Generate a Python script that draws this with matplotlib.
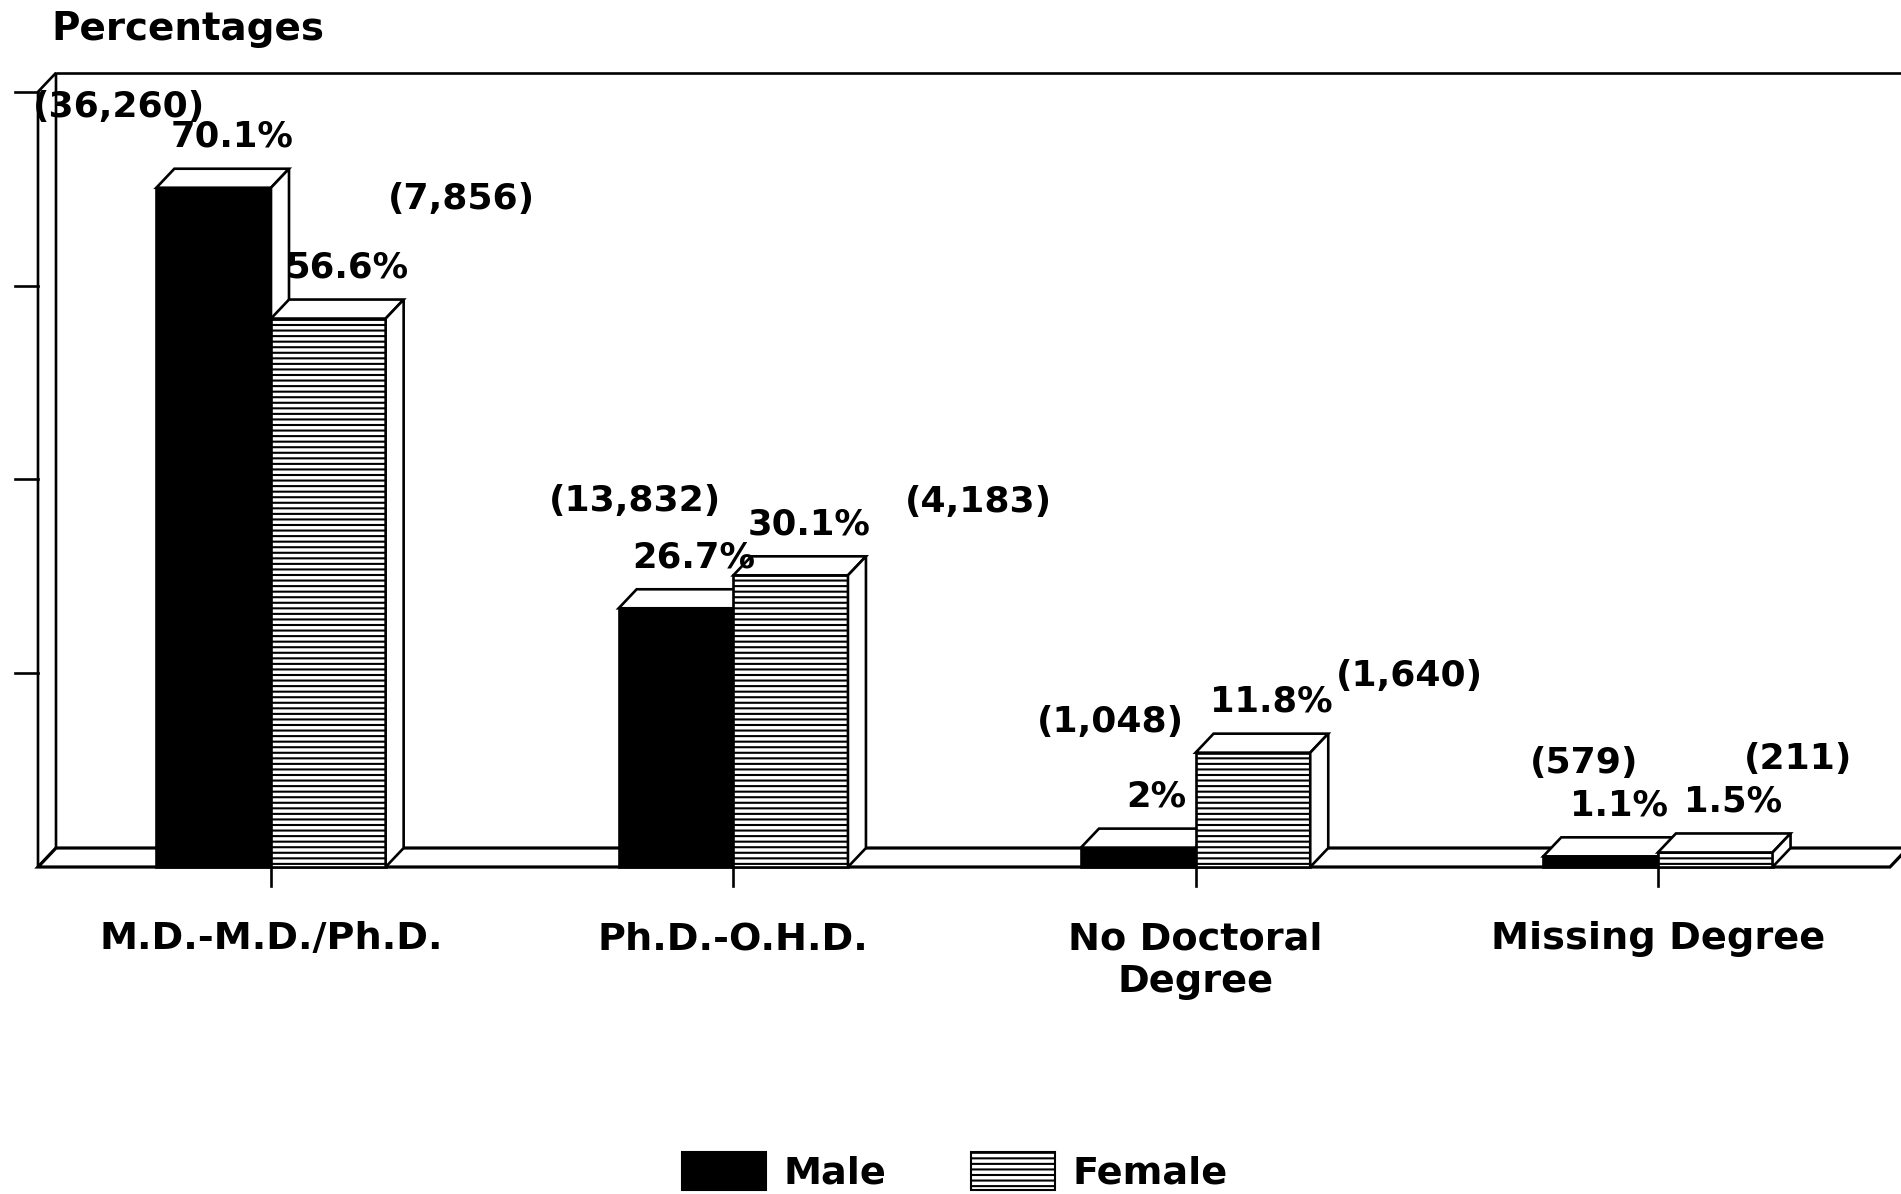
import matplotlib
matplotlib.use("Agg")
import matplotlib.pyplot as plt
from matplotlib.patches import Polygon, Rectangle
import numpy as np

# ---------------- data ----------------
categories = ["M.D.-M.D./Ph.D.", "Ph.D.-O.H.D.", "No Doctoral\nDegree", "Missing Degree"]
male_pct = [70.1, 26.7, 2.0, 1.1]
female_pct = [56.6, 30.1, 11.8, 1.5]
male_pct_labels = ["70.1%", "26.7%", "2%", "1.1%"]
female_pct_labels = ["56.6%", "30.1%", "11.8%", "1.5%"]
male_counts = ["(36,260)", "(13,832)", "(1,048)", "(579)"]
female_counts = ["(7,856)", "(4,183)", "(1,640)", "(211)"]
y_ticks = [20, 40, 60, 80]
series_names = ["Male", "Female"]

# ---------------- style ----------------
plt.rcParams['hatch.linewidth'] = 1.5
plt.rcParams['hatch.color'] = 'black'
W, H = 1901, 1194
FLOOR_PX, PX_PER_PCT = 867, 9.69
CAT0_PX, CAT_STEP_PX = 271, 462.3
BAR_W = 0.248
LW = 1.9
male_count_off = [(-68.4, 51.1), (-29.5, 69.8), (-19.8, 83.5), (-11.5, 59.8)]
female_count_off = [(96.1, 79.2), (135.4, 45.4), (113.0, 48.2), (59.4, 59.8)]
pct_off = (13, 29.5)

fig = plt.figure(figsize=(W / 100, H / 100), dpi=100)
fig.patch.set_facecolor('white')
ax = fig.add_axes([0, 0, 1, 1])
ax.set_xlim(-CAT0_PX / CAT_STEP_PX, (W - CAT0_PX) / CAT_STEP_PX)
ax.set_ylim(-(H - FLOOR_PX) / PX_PER_PCT, FLOOR_PX / PX_PER_PCT)
ax.axis('off')

inv = ax.transData.inverted()
o = ax.transData.transform((0, 0))
DX, DY = inv.transform(o + np.array([18, 19]))
def px_x(px):
    return inv.transform((px, 0))[0]
wall_x = px_x(38)
floor_r = px_x(1890)
tick_x0 = px_x(15)
ymax = y_ticks[-1]

# left wall
ax.add_patch(Polygon([(wall_x, 0), (wall_x, ymax), (wall_x + DX, ymax + DY), (wall_x + DX, DY)],
                     closed=True, fc='white', ec='black', lw=LW, zorder=1))
# back wall top edge
ax.plot([wall_x + DX, ax.get_xlim()[1] + 1], [ymax + DY, ymax + DY], color='black', lw=LW,
        zorder=1, clip_on=False, solid_capstyle='butt')
# floor
ax.add_patch(Polygon([(wall_x, 0), (floor_r, 0), (floor_r + DX, DY), (wall_x + DX, DY)],
                     closed=True, fc='white', ec='black', lw=LW + 0.4, zorder=2))
# y ticks
for t in y_ticks:
    ax.plot([tick_x0, wall_x], [t, t], color='black', lw=LW, zorder=2)
# category ticks
tick_len = 19 / PX_PER_PCT
for i in range(len(categories)):
    ax.plot([i, i], [0, -tick_len], color='black', lw=LW, zorder=2)

def bar3d(xc, h, face, hatch):
    x0, x1 = xc - BAR_W / 2, xc + BAR_W / 2
    ax.bar(xc, h, width=BAR_W, color=face, edgecolor='black', hatch=hatch, lw=LW, zorder=3)
    ax.add_patch(Polygon([(x0, h), (x1, h), (x1 + DX, h + DY), (x0 + DX, h + DY)],
                         closed=True, fc='white', ec='black', lw=LW, zorder=3))
    ax.add_patch(Polygon([(x1, 0), (x1 + DX, DY), (x1 + DX, h + DY), (x1, h)],
                         closed=True, fc='white', ec='black', lw=LW, zorder=3))

for i in range(len(categories)):
    xm = i - BAR_W / 2
    xf = i + BAR_W / 2
    bar3d(xm, male_pct[i], 'black', None)
    bar3d(xf, female_pct[i], 'white', '---')

pct_font = dict(family='DejaVu Sans', weight='bold', size=25.5)
cnt_font = dict(family='DejaVu Sans', weight='bold', size=26)
for i in range(len(categories)):
    xm = i - BAR_W / 2
    xf = i + BAR_W / 2
    ax.annotate(male_pct_labels[i], xy=(xm, male_pct[i]), xytext=pct_off, textcoords='offset points',
                ha='center', va='baseline', zorder=6, **pct_font)
    ax.annotate(female_pct_labels[i], xy=(xf, female_pct[i]), xytext=pct_off, textcoords='offset points',
                ha='center', va='baseline', zorder=6, **pct_font)
    ax.annotate(male_counts[i], xy=(xm, male_pct[i]), xytext=male_count_off[i], textcoords='offset points',
                ha='center', va='baseline', zorder=6, **cnt_font)
    ax.annotate(female_counts[i], xy=(xf, female_pct[i]), xytext=female_count_off[i], textcoords='offset points',
                ha='center', va='baseline', zorder=6, **cnt_font)
    ax.annotate(categories[i], xy=(i, 0), xytext=(0, -39), textcoords='offset points',
                ha='center', va='top', linespacing=1.25, family='DejaVu Sans', weight='bold', size=27.5)

fig.text(51 / W, 1 - 40 / H, "Percentages", family='DejaVu Sans', weight='bold', size=28,
         ha='left', va='baseline')

handles = [Rectangle((0, 0), 1, 1, fc='black', ec='black', lw=1.5),
           Rectangle((0, 0), 1, 1, fc='white', ec='black', lw=1.5, hatch='---')]
fig.legend(handles, series_names, loc='center', bbox_to_anchor=(955 / W, 1 - 1172 / H), ncol=2,
           frameon=False, prop=dict(family='DejaVu Sans', weight='bold', size=27.5),
           handlelength=2.2, handleheight=1.15, handletextpad=0.47, columnspacing=2.2,
           borderpad=0, borderaxespad=0)

fig.savefig('out.png', dpi=100, facecolor='white')
